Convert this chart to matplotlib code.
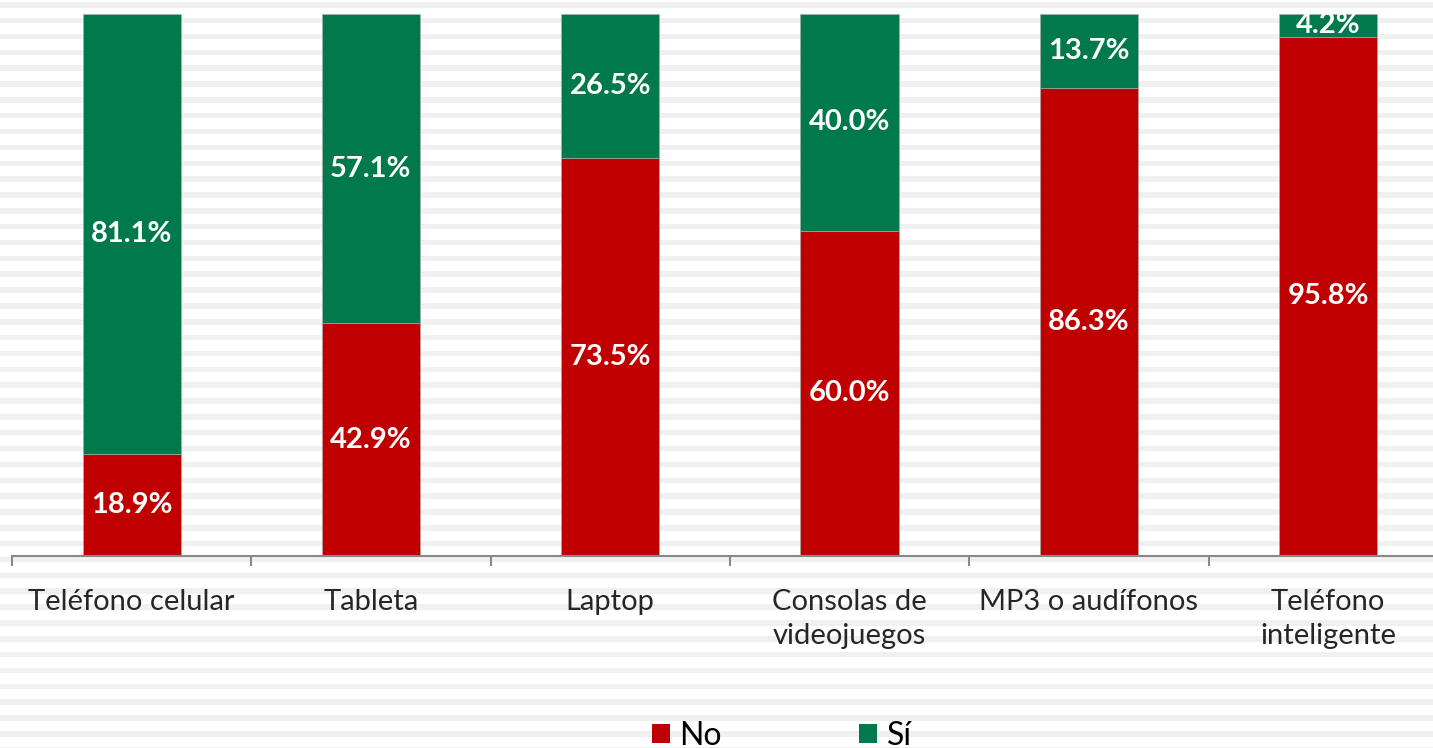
import matplotlib
matplotlib.use("Agg")
import matplotlib.pyplot as plt
from matplotlib.patches import Patch
import numpy as np

# data
categories = ["Teléfono celular", "Tableta", "Laptop", "Consolas de\nvideojuegos",
              "MP3 o audífonos", "Teléfono\ninteligente"]
no_vals = [18.9, 42.9, 73.5, 60.0, 86.3, 95.8]
si_vals = [81.1, 57.1, 26.5, 40.0, 13.7, 4.2]

red = "#C00000"
green = "#007A4D"

plt.rcParams["font.family"] = ["Lato", "DejaVu Sans"]

W, H = 1433, 748
fig = plt.figure(figsize=(W / 100, H / 100), dpi=100)
fig.patch.set_facecolor("white")

# striped background
bg = fig.add_axes([0, 0, 1, 1], zorder=0)
bg.set_xlim(0, W)
bg.set_ylim(H, 0)
bg.axis("off")
for y0 in np.arange(2, H, 15.85):
    bg.axhspan(y0, y0 + 5.5, color="#F0F0F0", lw=0)

# main axes: 239.3 px per category, left edge at x=12
left, top, bottom = 12, 14, 556
cat_w = 239.3
ax = fig.add_axes([left / W, 1 - bottom / H, 6 * cat_w / W, (bottom - top) / H], zorder=1)
ax.patch.set_alpha(0)

x = np.arange(len(categories))
no = np.array(no_vals) / 100
si = np.array(si_vals) / 100
ax.bar(x, no, width=0.41, color=red, edgecolor="#B0B0B0", linewidth=0.4)
ax.bar(x, si, width=0.41, bottom=no, color=green, edgecolor="#B0B0B0", linewidth=0.4)

for i in range(len(categories)):
    ax.text(x[i], no[i] / 2, f"{no_vals[i]:.1f}%", ha="center", va="center",
            color="white", fontsize=21, fontweight="bold")
    ax.text(x[i], no[i] + si[i] / 2, f"{si_vals[i]:.1f}%", ha="center", va="center",
            color="white", fontsize=21, fontweight="bold")

ax.set_xlim(-0.5, 5.5)
ax.set_ylim(0, 1)
for s in ["top", "right", "left"]:
    ax.spines[s].set_visible(False)
ax.spines["bottom"].set_color("#888888")
ax.spines["bottom"].set_linewidth(1.5)
ax.set_yticks([])

ax.set_xticks(np.arange(-0.5, 6, 1))
ax.set_xticklabels([])
ax.tick_params(axis="x", which="major", length=7, width=1.5, color="#888888")
ax.set_xticks(x, minor=True)
ax.set_xticklabels(categories, minor=True, fontsize=21, color="#262626",
                   va="top", linespacing=1.38)
ax.tick_params(axis="x", which="minor", length=0, pad=24)

handles = [Patch(facecolor=red), Patch(facecolor=green)]
fig.legend(handles, ["No", "Sí"], loc="lower center", bbox_to_anchor=(782 / W, -0.042),
           ncol=2, frameon=False, fontsize=23, handlelength=0.55, handleheight=0.55,
           handletextpad=0.3, columnspacing=4.3)

fig.savefig("out.png", dpi=100)
